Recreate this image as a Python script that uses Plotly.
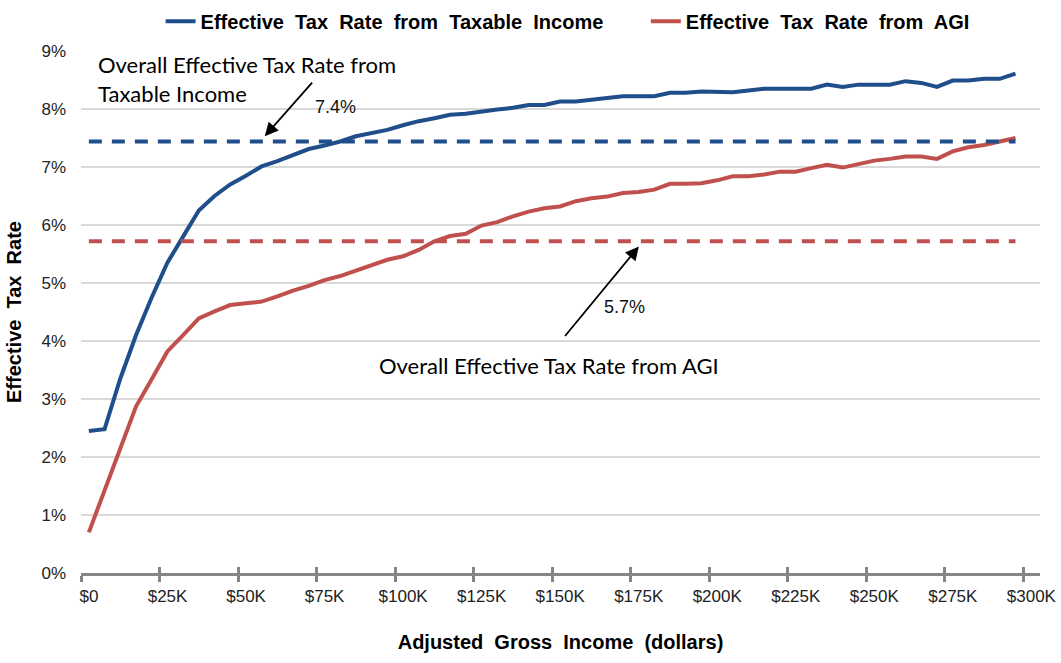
import plotly.graph_objects as go

# Income brackets: $5K-wide bins, plotted at bin midpoints (dollars)
agi_midpoints = [2500 + 5000 * i for i in range(60)]

# Effective tax rate (%) by AGI bracket
rate_taxable_income = [
    2.45, 2.48, 3.35, 4.10, 4.75, 5.35, 5.80, 6.25, 6.50, 6.70,
    6.85, 7.01, 7.10, 7.20, 7.31, 7.37, 7.44, 7.53, 7.58, 7.64,
    7.72, 7.79, 7.84, 7.90, 7.92, 7.96, 7.99, 8.02, 8.07, 8.07,
    8.13, 8.13, 8.16, 8.19, 8.22, 8.22, 8.22, 8.28, 8.28, 8.30,
    8.29, 8.29, 8.32, 8.35, 8.35, 8.35, 8.35, 8.42, 8.38, 8.42,
    8.42, 8.42, 8.48, 8.45, 8.38, 8.49, 8.49, 8.52, 8.52, 8.61,
]
rate_agi = [
    0.70, 1.43, 2.17, 2.87, 3.34, 3.82, 4.10, 4.39, 4.51, 4.62,
    4.65, 4.68, 4.77, 4.87, 4.95, 5.05, 5.12, 5.21, 5.31, 5.40,
    5.46, 5.57, 5.72, 5.81, 5.85, 5.99, 6.05, 6.15, 6.23, 6.29,
    6.32, 6.41, 6.46, 6.49, 6.55, 6.57, 6.61, 6.71, 6.71, 6.72,
    6.77, 6.84, 6.84, 6.87, 6.92, 6.92, 6.98, 7.04, 6.99, 7.05,
    7.11, 7.14, 7.18, 7.18, 7.14, 7.27, 7.34, 7.38, 7.44, 7.50,
]

# Overall (aggregate) effective rates
overall_taxable_income = 7.44
overall_agi = 5.72

x_tick_values = [25000 * i for i in range(13)]
x_tick_labels = ["$0", "$25K", "$50K", "$75K", "$100K", "$125K", "$150K",
                 "$175K", "$200K", "$225K", "$250K", "$275K", "$300K"]
y_tick_values = list(range(10))
y_tick_labels = [f"{v}%" for v in y_tick_values]

BLUE = "#1F4E8A"
RED = "#C0504D"
AXIS_GRAY = "#868686"
GRID_GRAY = "#D9D9D9"
SANS = "Liberation Sans, Arial, sans-serif"


def wide(text):
    """Bold headings are set with generous word spacing."""
    return text.replace(" ", "\u00a0 ")


fig = go.Figure()

fig.add_trace(go.Scatter(
    x=agi_midpoints, y=rate_taxable_income, mode="lines",
    name=wide("Effective Tax Rate from Taxable Income"),
    line=dict(color=BLUE, width=4), legend="legend",
))
fig.add_trace(go.Scatter(
    x=agi_midpoints, y=rate_agi, mode="lines",
    name=wide("Effective Tax Rate from AGI"),
    line=dict(color=RED, width=4), legend="legend2",
))
fig.add_trace(go.Scatter(
    x=agi_midpoints, y=[overall_taxable_income] * len(agi_midpoints),
    mode="lines", showlegend=False, hoverinfo="skip",
    line=dict(color=BLUE, width=4, dash="13px,10px"),
))
fig.add_trace(go.Scatter(
    x=agi_midpoints, y=[overall_agi] * len(agi_midpoints),
    mode="lines", showlegend=False, hoverinfo="skip",
    line=dict(color=RED, width=4, dash="13px,10px"),
))
# invisible trace to activate the secondary x axis for the upward tick marks
fig.add_trace(go.Scatter(x=[0], y=[0], xaxis="x2", mode="markers",
                         marker=dict(opacity=0), showlegend=False, hoverinfo="skip"))

label_font = dict(family="Lato, sans-serif", size=22, color="#000")
value_font = dict(family=SANS, size=18, color="#111")

annotations = [
    dict(x=4800, y=8.52, xref="x", yref="y",
         text="Overall Effective Tax Rate from<br>Taxable Income",
         showarrow=False, font=label_font, align="left",
         xanchor="left", yanchor="middle"),
    # arrow pointing at the overall taxable-income rate
    dict(x=58500, y=overall_taxable_income + 0.09, xref="x", yref="y",
         ax=74000, ay=8.48, axref="x", ayref="y", text="", showarrow=True,
         arrowhead=2, arrowsize=1.5, arrowwidth=1.8, arrowcolor="#000"),
    dict(x=73800, y=8.03, xref="x", yref="y",
         text=f"{overall_taxable_income:.1f}%", showarrow=False, font=value_font,
         xanchor="left", yanchor="middle"),
    # arrow pointing at the overall AGI rate
    dict(x=177600, y=overall_agi - 0.09, xref="x", yref="y",
         ax=153700, ay=4.06, axref="x", ayref="y", text="", showarrow=True,
         arrowhead=2, arrowsize=1.5, arrowwidth=1.8, arrowcolor="#000"),
    dict(x=166000, y=4.59, xref="x", yref="y",
         text=f"{overall_agi:.1f}%", showarrow=False, font=value_font,
         xanchor="left", yanchor="middle"),
    dict(x=149000, y=3.57, xref="x", yref="y",
         text="Overall Effective Tax Rate from AGI", showarrow=False,
         font=label_font, xanchor="center", yanchor="middle"),
]

legend_font = dict(family=SANS, size=20, color="#000", weight="bold")

fig.update_layout(
    width=1061, height=663,
    margin=dict(l=81, r=21, t=51, b=90, autoexpand=False),
    paper_bgcolor="white", plot_bgcolor="white",
    font=dict(family=SANS, color="#222"),
    showlegend=True,
    legend=dict(orientation="h", x=0.083, y=0.968, xref="paper", yref="container",
                xanchor="left", yanchor="middle",
                font=legend_font, bgcolor="rgba(0,0,0,0)", borderwidth=0),
    legend2=dict(orientation="h", x=0.589, y=0.968, xref="paper", yref="container",
                 xanchor="left", yanchor="middle",
                 font=legend_font, bgcolor="rgba(0,0,0,0)", borderwidth=0),
    xaxis=dict(
        range=[0, 305300], tickvals=x_tick_values, ticktext=x_tick_labels,
        showgrid=False, zeroline=False,
        showline=True, linecolor=AXIS_GRAY, linewidth=3,
        ticks="outside", ticklen=6, tickwidth=3, tickcolor=AXIS_GRAY,
        tickfont=dict(family=SANS, size=17, color="#222"), ticklabelshift=8,
        title=dict(text=wide("Adjusted Gross Income (dollars)"),
                   font=dict(family=SANS, size=20, color="#000", weight="bold"),
                   standoff=30),
        fixedrange=True,
    ),
    xaxis2=dict(
        range=[0, 305300], tickvals=x_tick_values, overlaying="x", anchor="y",
        side="bottom", showgrid=False, zeroline=False, showline=False,
        ticks="inside", ticklen=6, tickwidth=3, tickcolor=AXIS_GRAY,
        showticklabels=False, fixedrange=True,
    ),
    yaxis=dict(
        range=[0, 9], tickvals=y_tick_values, ticktext=y_tick_labels,
        showgrid=True, gridcolor=GRID_GRAY, gridwidth=2, zeroline=False,
        ticks="", tickfont=dict(family=SANS, size=17, color="#222"),
        ticklabelstandoff=14,
        title=dict(text=wide("Effective Tax Rate"),
                   font=dict(family=SANS, size=20, color="#000", weight="bold"),
                   standoff=14),
        fixedrange=True,
    ),
    annotations=annotations,
)

fig.write_html("out.html")
